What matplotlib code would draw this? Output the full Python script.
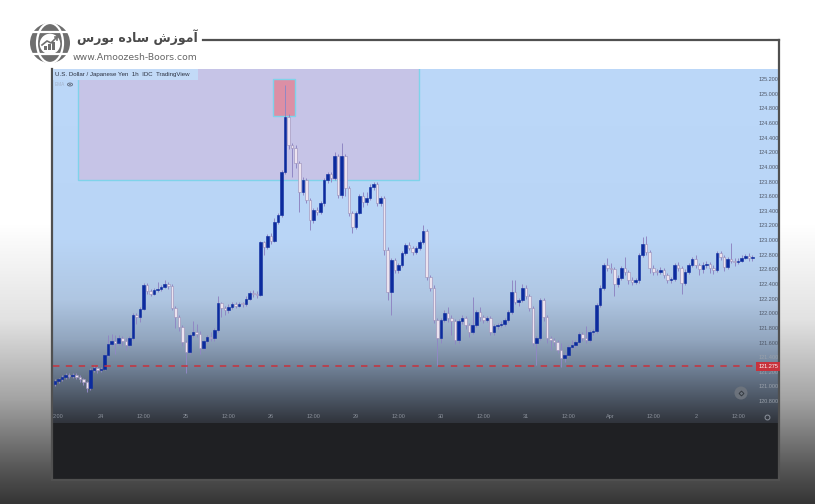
import numpy as np
import matplotlib.pyplot as plt
import matplotlib.transforms as mtransforms
from matplotlib.patches import Rectangle, Circle, Ellipse
from matplotlib.colors import to_rgb

W, H = 815, 504

# USD/JPY 1h candles (open of each candle = previous close)
first_open = 121.03
closes = [121.08, 121.10, 121.13, 121.15, 121.14, 121.16, 121.13, 121.10, 121.06, 120.98,
          121.23, 121.25, 121.22, 121.24, 121.43, 121.58, 121.62, 121.60, 121.66, 121.62,
          121.57, 121.66, 121.97, 121.95, 122.06, 122.39, 122.30, 122.27, 122.32, 122.33,
          122.36, 122.40, 122.37, 122.07, 121.95, 121.81, 121.61, 121.47, 121.70, 121.75,
          121.72, 121.53, 121.62, 121.68, 121.66, 121.77, 122.14, 122.07, 122.04, 122.09,
          122.12, 122.10, 122.13, 122.12, 122.20, 122.28, 122.26, 122.25, 122.97, 122.90,
          123.05, 122.99, 123.25, 123.34, 123.93, 124.68, 124.30, 124.26, 124.05, 123.66,
          123.82, 123.55, 123.27, 123.41, 123.38, 123.50, 123.82, 123.90, 123.85, 124.15,
          123.62, 124.15, 123.71, 123.37, 123.18, 123.37, 123.60, 123.52, 123.58, 123.72,
          123.76, 123.50, 123.57, 122.86, 122.29, 122.73, 122.59, 122.66, 122.82, 122.93,
          122.89, 122.84, 122.89, 122.97, 123.12, 122.49, 122.35, 121.91, 121.66, 121.91,
          122.00, 121.93, 121.89, 121.63, 121.89, 121.93, 121.84, 121.75, 121.84, 122.02,
          121.95, 121.91, 121.93, 121.74, 121.82, 121.84, 121.86, 121.91, 122.02, 122.29,
          122.15, 122.18, 122.35, 122.24, 122.07, 121.59, 121.66, 122.18, 121.95, 121.66,
          121.63, 121.61, 121.50, 121.39, 121.43, 121.54, 121.56, 121.61, 121.72, 121.66,
          121.64, 121.74, 121.76, 122.11, 122.35, 122.66, 122.62, 122.60, 122.40, 122.48,
          122.62, 122.56, 122.45, 122.43, 122.45, 122.80, 122.95, 122.84, 122.62, 122.57,
          122.56, 122.59, 122.52, 122.45, 122.47, 122.66, 122.62, 122.41, 122.57, 122.66,
          122.74, 122.66, 122.60, 122.66, 122.67, 122.62, 122.59, 122.82, 122.77, 122.63,
          122.74, 122.72, 122.70, 122.72, 122.76, 122.78, 122.75, 122.76]
highs = [121.10, 121.12, 121.15, 121.18, 121.18, 121.18, 121.18, 121.15, 121.12, 121.08,
         121.25, 121.30, 121.28, 121.27, 121.45, 121.70, 121.72, 121.70, 121.70, 121.69,
         121.66, 121.69, 122.00, 122.00, 122.09, 122.41, 122.41, 122.33, 122.35, 122.43,
         122.39, 122.45, 122.43, 122.40, 122.10, 121.97, 121.84, 121.63, 121.72, 121.90,
         121.85, 121.76, 121.64, 121.70, 121.75, 121.80, 122.24, 122.16, 122.10, 122.12,
         122.15, 122.15, 122.16, 122.16, 122.23, 122.31, 122.32, 122.30, 122.99, 122.99,
         123.08, 123.10, 123.30, 123.37, 123.96, 125.12, 124.72, 124.33, 124.30, 124.08,
         123.86, 123.85, 123.58, 123.44, 123.45, 123.53, 123.85, 123.93, 123.93, 124.20,
         124.18, 124.32, 124.18, 123.74, 123.40, 123.40, 123.63, 123.65, 123.66, 123.77,
         123.80, 123.79, 123.60, 123.60, 122.90, 122.76, 122.76, 122.69, 122.85, 122.96,
         122.97, 122.92, 122.92, 123.00, 123.20, 123.15, 122.52, 122.38, 121.94, 121.94,
         122.05, 122.08, 121.97, 121.92, 121.92, 121.98, 121.96, 121.87, 122.22, 122.05,
         122.08, 121.98, 121.96, 121.96, 121.85, 121.87, 121.89, 121.94, 122.05, 122.45,
         122.45, 122.21, 122.40, 122.38, 122.27, 122.10, 121.69, 122.21, 122.21, 121.98,
         121.69, 121.66, 121.64, 121.60, 121.47, 121.57, 121.64, 121.64, 121.75, 121.75,
         121.82, 121.77, 121.79, 122.14, 122.38, 122.69, 122.76, 122.68, 122.63, 122.52,
         122.65, 122.77, 122.59, 122.49, 122.48, 122.83, 123.04, 123.06, 122.87, 122.66,
         122.60, 122.63, 122.62, 122.55, 122.50, 122.69, 122.70, 122.65, 122.60, 122.69,
         122.77, 122.80, 122.69, 122.70, 122.71, 122.70, 122.66, 122.85, 122.85, 122.80,
         122.77, 122.96, 122.75, 122.76, 122.79, 122.81, 122.82, 122.79]
lows = [121.00, 121.05, 121.07, 121.10, 121.11, 121.12, 121.10, 121.06, 121.02, 120.93,
        120.95, 121.20, 121.19, 121.20, 121.22, 121.40, 121.55, 121.45, 121.57, 121.55,
        121.50, 121.54, 121.64, 121.85, 121.88, 122.04, 122.27, 122.24, 122.25, 122.29,
        122.31, 122.34, 122.33, 122.04, 121.80, 121.76, 121.55, 121.18, 121.44, 121.67,
        121.68, 121.45, 121.50, 121.59, 121.62, 121.62, 121.75, 121.95, 121.98, 122.01,
        122.06, 122.07, 122.08, 122.08, 122.10, 122.18, 122.22, 122.21, 122.23, 122.80,
        122.88, 122.95, 122.97, 123.22, 123.32, 123.90, 124.25, 123.86, 123.98, 123.38,
        123.62, 123.50, 123.14, 123.24, 123.34, 123.35, 123.47, 123.78, 123.80, 123.82,
        123.58, 123.58, 123.60, 123.33, 123.10, 123.15, 123.35, 123.45, 123.48, 123.55,
        123.69, 123.46, 123.46, 122.80, 122.18, 121.98, 122.55, 122.55, 122.63, 122.80,
        122.86, 122.80, 122.81, 122.86, 122.95, 122.45, 122.30, 121.87, 121.29, 121.60,
        121.88, 121.88, 121.70, 121.58, 121.60, 121.85, 121.78, 121.67, 121.72, 121.81,
        121.90, 121.87, 121.88, 121.70, 121.71, 121.79, 121.81, 121.83, 121.88, 121.99,
        122.12, 122.10, 122.15, 122.20, 122.03, 121.55, 121.29, 121.63, 121.90, 121.60,
        121.50, 121.55, 121.46, 121.27, 121.33, 121.40, 121.51, 121.53, 121.58, 121.62,
        121.60, 121.61, 121.71, 121.73, 122.08, 122.32, 122.58, 122.55, 122.24, 122.36,
        122.45, 122.52, 122.40, 122.38, 122.40, 122.42, 122.77, 122.80, 122.55, 122.52,
        122.52, 122.53, 122.48, 122.42, 122.42, 122.44, 122.58, 122.26, 122.38, 122.54,
        122.63, 122.62, 122.52, 122.55, 122.62, 122.55, 122.54, 122.56, 122.73, 122.58,
        122.60, 122.68, 122.64, 122.67, 122.70, 122.74, 122.71, 122.72]
opens = [first_open] + closes[:-1]

price_ticks = [120.8, 121.0, 121.2, 121.4, 121.6, 121.8, 122.0, 122.2, 122.4, 122.6, 122.8,
               123.0, 123.2, 123.4, 123.6, 123.8, 124.0, 124.2, 124.4, 124.6, 124.8, 125.0, 125.2]
time_ticks = [1, 13, 25, 37, 49, 61, 73, 85, 97, 109, 121, 133, 145, 157, 169, 181, 193]
time_labels = ["2:00", "24", "12:00", "25", "12:00", "26", "12:00", "29", "12:00",
               "30", "12:00", "31", "12:00", "Apr", "12:00", "2", "12:00"]

support = 121.275
zone = (6.5, 102.8, 123.82)            # left idx, right idx, bottom price
peak_box = (61.7, 67.8, 124.70, 125.20)


def vgrad(stops, y0, y1):
    ys = np.arange(y0, y1 + 1)
    pos = [s[0] for s in stops]
    cols = np.array([to_rgb(s[1]) for s in stops])
    img = np.stack([np.interp(ys, pos, cols[:, k]) for k in range(3)], axis=-1)
    return img[:, None, :]


fig = plt.figure(figsize=(W / 100, H / 100), dpi=100)

# background layer in pixel coordinates
bg = fig.add_axes([0, 0, 1, 1])
bg.set_xlim(0, W)
bg.set_ylim(H, 0)
bg.axis("off")
outer = vgrad([(0, "#ffffff"), (225, "#ffffff"), (320, "#e2e2e2"), (400, "#a3a3a3"),
               (470, "#555555"), (504, "#353535")], 0, H)
bg.imshow(outer, extent=(0, W, H, 0), aspect="auto", interpolation="bilinear")
pane = vgrad([(69, "#bcd8f9"), (240, "#b9d5f6"), (300, "#afc6e2"), (340, "#92a6bf"),
              (370, "#6e7e93"), (400, "#4a5462"), (423, "#30343c")], 69, 423)
bg.imshow(pane, extent=(53, 779, 423, 69), aspect="auto", interpolation="bilinear")
bg.add_patch(Rectangle((53, 423), 726, 56, fc="#1f2023", ec="none"))

frame = "#505050"
bg.plot([203, 779], [40, 40], color=frame, lw=1.6)
bg.plot([779, 779], [40, 480], color=frame, lw=1.6)
bg.plot([52, 779], [480, 480], color=frame, lw=1.6)
bg.plot([52, 52], [69, 480], color=frame, lw=1.6)

# logo
bg.add_patch(Circle((50, 43), 20, fc="#6e6e6e", ec="none"))
bg.add_patch(Ellipse((50, 43), 26, 40, fc="none", ec="white", lw=1.6))
for yy in (32, 54):
    dx = np.sqrt(20 ** 2 - (yy - 43) ** 2)
    bg.plot([50 - dx, 50 + dx], [yy, yy], color="white", lw=1.6)
bg.add_patch(Circle((50, 44), 11, fc="white", ec="#6e6e6e", lw=1))
for bx, bh in ((44, 4), (48, 6), (52, 8)):
    bg.add_patch(Rectangle((bx, 50 - bh), 2.5, bh, fc="#6e6e6e", ec="none"))
bg.plot([42, 47, 51, 57], [45, 41, 43, 37], color="#6e6e6e", lw=1.2)
bg.plot([54.5, 57, 57], [37, 37, 39.5], color="#6e6e6e", lw=1.2)
persian = "\uFEB1\uFEAD\uFEEE\uFE91 \uFEE9\uFEA9\uFE8E\uFEB3 \uFEB5\uFEAF\uFEEE\uFEE3\uFE81"
bg.text(198, 37, persian, fontsize=9.0, fontweight="bold", color="#4a4a4a",
        ha="right", va="center", family="DejaVu Sans")
bg.text(197, 57, "www.Amoozesh-Boors.com", fontsize=6.7, color="#666666",
        ha="right", va="center", family="DejaVu Sans")

# price chart
ax = fig.add_axes([53 / W, (H - 423) / H, (755 - 53) / W, (423 - 69) / H])
ax.patch.set_alpha(0)
for s in ax.spines.values():
    s.set_visible(False)
ax.set_xlim(-0.565, 197.74)
ax.set_ylim(120.501, 125.337)

ax.add_patch(Rectangle((zone[0], zone[2]), zone[1] - zone[0], 2.0,
                       fc="#c6c4e7", ec="#7fd3ea", lw=1.0, zorder=1))
ax.add_patch(Rectangle((peak_box[0], peak_box[2]), peak_box[1] - peak_box[0],
                       peak_box[3] - peak_box[2], fc="#dc8fa5", ec="#7fd3ea",
                       lw=1.0, zorder=2))

x = np.arange(len(closes))
o = np.array(opens)
c = np.array(closes)
up = c >= o
ax.vlines(x, lows, highs, color="#9088c4", lw=0.7, zorder=3)
ax.bar(x, np.maximum(np.abs(c - o), 0.014), bottom=np.minimum(o, c), width=0.72,
       color=np.where(up, "#0c2b9e", "#ece3ef"),
       edgecolor=np.where(up, "#0c2b9e", "#988cb6"), linewidth=0.4, zorder=4)

ax.axhline(support, color="#c8323c", lw=1.1, dashes=(4.2, 4.2), zorder=5)

ax.yaxis.tick_right()
ax.set_yticks(price_ticks)
ax.set_yticklabels([f"{v:.3f}" for v in price_ticks], family="Liberation Sans", fontsize=4)
for lab, v in zip(ax.get_yticklabels(), price_ticks):
    lab.set_color("#9aa1ab" if v < 121.5 else "#4f5767")
ax.tick_params(axis="y", length=0, pad=2.5)
ax.set_xticks(time_ticks)
ax.set_xticklabels(time_labels, family="Liberation Sans", fontsize=4, color="#8b919b")
ax.tick_params(axis="x", length=0, pad=-6.5)

tr = mtransforms.blended_transform_factory(ax.transAxes, ax.transData)
ax.text(1.0045, support, f"{support:.3f}", transform=tr, ha="left", va="center",
        fontsize=4, family="Liberation Sans", color="white", clip_on=False, zorder=10,
        bbox=dict(boxstyle="square,pad=0.35", fc="#c8323c", ec="none"))

# overlay: legend line and small icons
top = fig.add_axes([0, 0, 1, 1])
top.set_xlim(0, W)
top.set_ylim(H, 0)
top.axis("off")
top.add_patch(Rectangle((53, 69), 145, 11, fc="#c2daf7", ec="none"))
top.text(55, 74.5, "U.S. Dollar / Japanese Yen  1h  IDC  TradingView", fontsize=4.4,
         family="Liberation Sans", color="#2b3040", va="center")
top.text(55, 84.5, "EMA", fontsize=3.4, family="Liberation Sans", color="#a3b2c9", va="center")
top.add_patch(Ellipse((70, 84.5), 5, 3, fc="none", ec="#5c6678", lw=0.6))
top.add_patch(Circle((70, 84.5), 0.8, fc="#5c6678", ec="none"))
top.add_patch(Circle((741, 393), 6.5, fc="#6f757e", ec="none", alpha=0.9))
top.plot(741, 393, marker="D", ms=2.5, mfc="none", mec="#2f343b", mew=0.6)
top.plot(767, 417, marker="o", ms=3.5, mfc="none", mec="#8b919b", mew=0.7)

fig.savefig("out.png", dpi=100)
